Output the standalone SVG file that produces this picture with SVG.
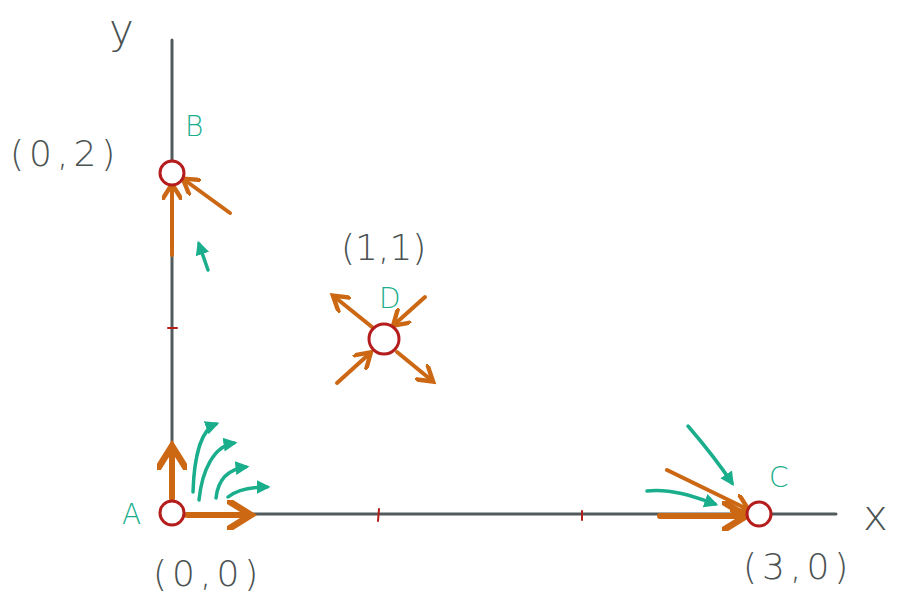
<svg xmlns="http://www.w3.org/2000/svg" width="900" height="603" viewBox="0 0 900 603">
<defs>
<style>
.axis{stroke:#515b5b;stroke-width:3;fill:none;stroke-linecap:round}
.or{stroke:#cc6813;stroke-width:4;fill:none;stroke-linecap:round}
.orT{stroke:#cc6813;stroke-width:6;fill:none;stroke-linecap:round}
.gr{stroke:#1aae8c;stroke-width:3.5;fill:none;stroke-linecap:round}
.pt{stroke:#b51c1c;stroke-width:3;fill:#fff}
.tick{stroke:#b51c1c;stroke-width:2;fill:none;stroke-linecap:round}
.lab{font-family:"DejaVu Sans",sans-serif;font-weight:300;fill:#4a5252;font-size:36px;letter-spacing:5px}
.ax{font-family:"DejaVu Sans",sans-serif;font-weight:300;fill:#4a5252;font-size:42px}
.gl{font-family:"DejaVu Sans",sans-serif;font-weight:300;fill:#1aae8c;font-size:28px}
</style>
<marker id="ao" markerWidth="5" markerHeight="5" refX="3" refY="2.5" orient="auto" markerUnits="strokeWidth"><path d="M0,0 L4,2.5 L0,5" fill="none" stroke="#cc6813" stroke-width="1.1"/></marker>
<marker id="ag" markerWidth="5" markerHeight="5" refX="3" refY="2.5" orient="auto" markerUnits="strokeWidth"><path d="M0,0.5 L4,2.5 L0,4.5 Z" fill="#1aae8c"/></marker>
</defs>
<g id="axes">
<line class="axis" x1="172" y1="40" x2="172" y2="514"/>
<line class="axis" x1="172" y1="514" x2="836" y2="514"/>
<line class="tick" x1="168" y1="328" x2="177" y2="328"/>
<line class="tick" x1="379" y1="509" x2="378" y2="521"/>
<line class="tick" x1="582" y1="511" x2="582" y2="520"/>
<text class="ax" x="109" y="44">y</text>
<text class="ax" x="863" y="530">x</text>
</g>
<g id="connectors">
<line class="or" x1="172" y1="255" x2="172" y2="188" marker-end="url(#ao)"/>
<line class="or" x1="230" y1="213" x2="186" y2="181" marker-end="url(#ao)"/>
<line class="gr" x1="208" y1="270" x2="199" y2="244" marker-end="url(#ag)"/>
<line class="or" x1="372" y1="327" x2="336" y2="298" marker-end="url(#ao)"/>
<line class="or" x1="425" y1="297" x2="396" y2="323" marker-end="url(#ao)"/>
<line class="or" x1="337" y1="383" x2="368" y2="355" marker-end="url(#ao)"/>
<line class="or" x1="397" y1="352" x2="430" y2="379" marker-end="url(#ao)"/>
<line class="orT" x1="172" y1="498" x2="172" y2="452" marker-end="url(#ao)"/>
<line class="orT" x1="187" y1="515" x2="245" y2="515" marker-end="url(#ao)"/>
<path class="gr" d="M193,492 C194,460 200,430 216,424" marker-end="url(#ag)"/>
<path class="gr" d="M199,500 C202,470 214,446 234,443" marker-end="url(#ag)"/>
<path class="gr" d="M216,498 C218,480 228,469 246,467" marker-end="url(#ag)"/>
<path class="gr" d="M228,497 C238,489 252,487 267,487" marker-end="url(#ag)"/>
<line class="orT" x1="660" y1="516" x2="740" y2="516" marker-end="url(#ao)"/>
<line class="or" x1="667" y1="470" x2="745" y2="508" marker-end="url(#ao)"/>
<path class="gr" d="M688,426 C700,440 720,465 732,483" marker-end="url(#ag)"/>
<path class="gr" d="M647,491 C670,488 695,497 715,504" marker-end="url(#ag)"/>
</g>
<g id="node-A">
<circle class="pt" cx="172" cy="513" r="12"/>
<text class="gl" x="122" y="524">A</text>
<text class="lab" x="153" y="586">(0,0)</text>
</g>
<g id="node-B">
<circle class="pt" cx="172" cy="173" r="12"/>
<text class="gl" x="185" y="136">B</text>
<text class="lab" x="10" y="166">(0,2)</text>
</g>
<g id="node-C">
<circle class="pt" cx="759" cy="514" r="12"/>
<text class="gl" x="769" y="487">C</text>
<text class="lab" x="743" y="579">(3,0)</text>
</g>
<g id="node-D">
<circle class="pt" cx="384" cy="339" r="15"/>
<text class="gl" x="379" y="308">D</text>
<text class="lab" x="341" y="260" style="letter-spacing:0">(1,1)</text>
</g>
</svg>
